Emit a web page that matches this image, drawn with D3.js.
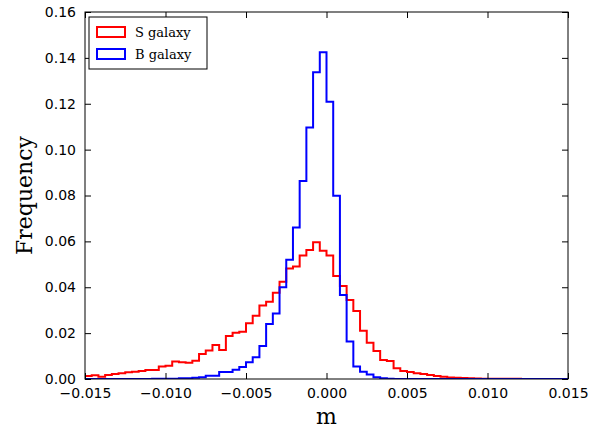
<!DOCTYPE html>
<html lang="en">
<head>
<meta charset="utf-8">
<script src="https://d3js.org/d3.v7.min.js"></script>
<style>
  body { margin: 0; background: #fff; }
  text { font-family: "DejaVu Sans", sans-serif; }
</style>
</head>
<body>
<script>
// histogram bins: 72 bins of equal width over [-0.015, 0.015]
var binStart = -0.015;
var binWidth = 0.03 / 72;

var sValues = [0.0013, 0.0016, 0.0010, 0.0017, 0.0022, 0.0025, 0.0029, 0.0032, 0.0035, 0.0039,
  0.0039, 0.0054, 0.0058, 0.0076, 0.0073, 0.0071, 0.0080, 0.0109, 0.0124, 0.0148,
  0.0126, 0.0187, 0.0202, 0.0206, 0.0243, 0.0276, 0.0320, 0.0337, 0.0376, 0.0424,
  0.0482, 0.0490, 0.0538, 0.0562, 0.0596, 0.0559, 0.0538, 0.0449, 0.0405, 0.0344,
  0.0296, 0.0210, 0.0158, 0.0122, 0.0083, 0.0078, 0.0047, 0.0035, 0.0030, 0.0025,
  0.0022, 0.0017, 0.0013, 0.0010, 0.0007, 0.0005, 0.0004, 0.0003, 0.0002, 0.0001,
  0.0001, 0.0001, 0.0001, 0.0001, 0.0001, 0, 0, 0, 0, 0, 0, 0];

var bValues = [0, 0, 0, 0, 0, 0, 0, 0, 0, 0,
  0.0001, 0.0001, 0.0001, 0.0001, 0.0003, 0.0003, 0.0005, 0.0008, 0.0014, 0.0014,
  0.0030, 0.0030, 0.0040, 0.0052, 0.0073, 0.0095, 0.0144, 0.0240, 0.0286, 0.0400,
  0.0520, 0.0660, 0.0863, 0.1096, 0.1337, 0.1424, 0.1209, 0.0799, 0.0366, 0.0163,
  0.0054, 0.0032, 0.0020, 0.0008, 0.0003, 0.0001, 0, 0, 0, 0,
  0, 0, 0, 0, 0, 0, 0, 0, 0, 0,
  0, 0, 0, 0, 0, 0, 0, 0, 0, 0, 0, 0];

var xTicks = [-0.015, -0.010, -0.005, 0.000, 0.005, 0.010, 0.015];
var yTicks = [0.00, 0.02, 0.04, 0.06, 0.08, 0.10, 0.12, 0.14, 0.16];
var seriesNames = ["S galaxy", "B galaxy"];
var seriesColors = ["#ff0000", "#0000ff"];

var W = 607, H = 430;
var m = {left: 85, right: 39, top: 12, bottom: 51};
var iw = W - m.left - m.right, ih = H - m.top - m.bottom;

var svg = d3.select("body").append("svg").attr("width", W).attr("height", H);
var g = svg.append("g").attr("transform", "translate(" + m.left + "," + m.top + ")");

var x = d3.scaleLinear().domain([-0.015, 0.015]).range([0, iw]);
var y = d3.scaleLinear().domain([0, 0.16]).range([ih, 0]);

svg.append("defs").append("clipPath").attr("id", "clip")
  .append("rect").attr("width", iw).attr("height", ih);

function stepPoints(vals) {
  var pts = [[binStart, 0]];
  vals.forEach(function (v, i) {
    pts.push([binStart + i * binWidth, v]);
  });
  pts.push([binStart + vals.length * binWidth, 0]);
  return pts;
}

var line = d3.line()
  .x(function (d) { return x(d[0]); })
  .y(function (d) { return y(d[1]); })
  .curve(d3.curveStepAfter);

[sValues, bValues].forEach(function (vals, i) {
  g.append("path")
    .attr("clip-path", "url(#clip)")
    .attr("d", line(stepPoints(vals)))
    .attr("fill", "none")
    .attr("stroke", seriesColors[i])
    .attr("stroke-width", 2);
});

var fmtMinus = function (s) { return s.replace("-", "\u2212"); };

// axes, ticks pointing inward
var xb = g.append("g").attr("transform", "translate(0," + ih + ")")
  .call(d3.axisBottom(x).tickValues(xTicks).tickSizeInner(-6).tickSizeOuter(0).tickPadding(9)
    .tickFormat(function (d) { return fmtMinus(d3.format(".3f")(d)); }));
var xt = g.append("g")
  .call(d3.axisTop(x).tickValues(xTicks).tickSizeInner(-6).tickSizeOuter(0).tickFormat(""));
var yl = g.append("g")
  .call(d3.axisLeft(y).tickValues(yTicks).tickSizeInner(-6).tickSizeOuter(0).tickPadding(9)
    .tickFormat(d3.format(".2f")));
var yr = g.append("g").attr("transform", "translate(" + iw + ",0)")
  .call(d3.axisRight(y).tickValues(yTicks).tickSizeInner(-6).tickSizeOuter(0).tickFormat(""));
[xb, xt, yl, yr].forEach(function (a) {
  a.select(".domain").remove();
  a.selectAll("text").attr("font-size", 14).attr("fill", "#000")
    .style("font-family", "'DejaVu Sans', sans-serif");
  a.selectAll("line").attr("stroke", "#000");
});

g.append("rect").attr("width", iw).attr("height", ih)
  .attr("fill", "none").attr("stroke", "#000").attr("stroke-width", 1);

svg.append("text").attr("x", m.left + iw / 2).attr("y", 424)
  .attr("text-anchor", "middle").attr("font-size", 22)
  .style("font-family", "'DejaVu Serif', serif").text("m");
svg.append("text").attr("transform", "translate(32," + (m.top + ih / 2) + ") rotate(-90)")
  .attr("text-anchor", "middle").attr("font-size", 22)
  .style("font-family", "'DejaVu Serif', serif").text("Frequency");

// legend
var lg = g.append("g").attr("transform", "translate(4,5)");
lg.append("rect").attr("width", 118).attr("height", 52)
  .attr("fill", "#fff").attr("stroke", "#000").attr("stroke-width", 1);
seriesNames.forEach(function (n, i) {
  var row = lg.append("g").attr("transform", "translate(8," + (10 + i * 22) + ")");
  row.append("rect").attr("width", 28).attr("height", 10)
    .attr("fill", "none").attr("stroke", seriesColors[i]).attr("stroke-width", 2);
  row.append("text").attr("x", 38).attr("y", 10).attr("font-size", 13)
    .style("font-family", "'DejaVu Serif', serif").text(n);
});
</script>
</body>
</html>
